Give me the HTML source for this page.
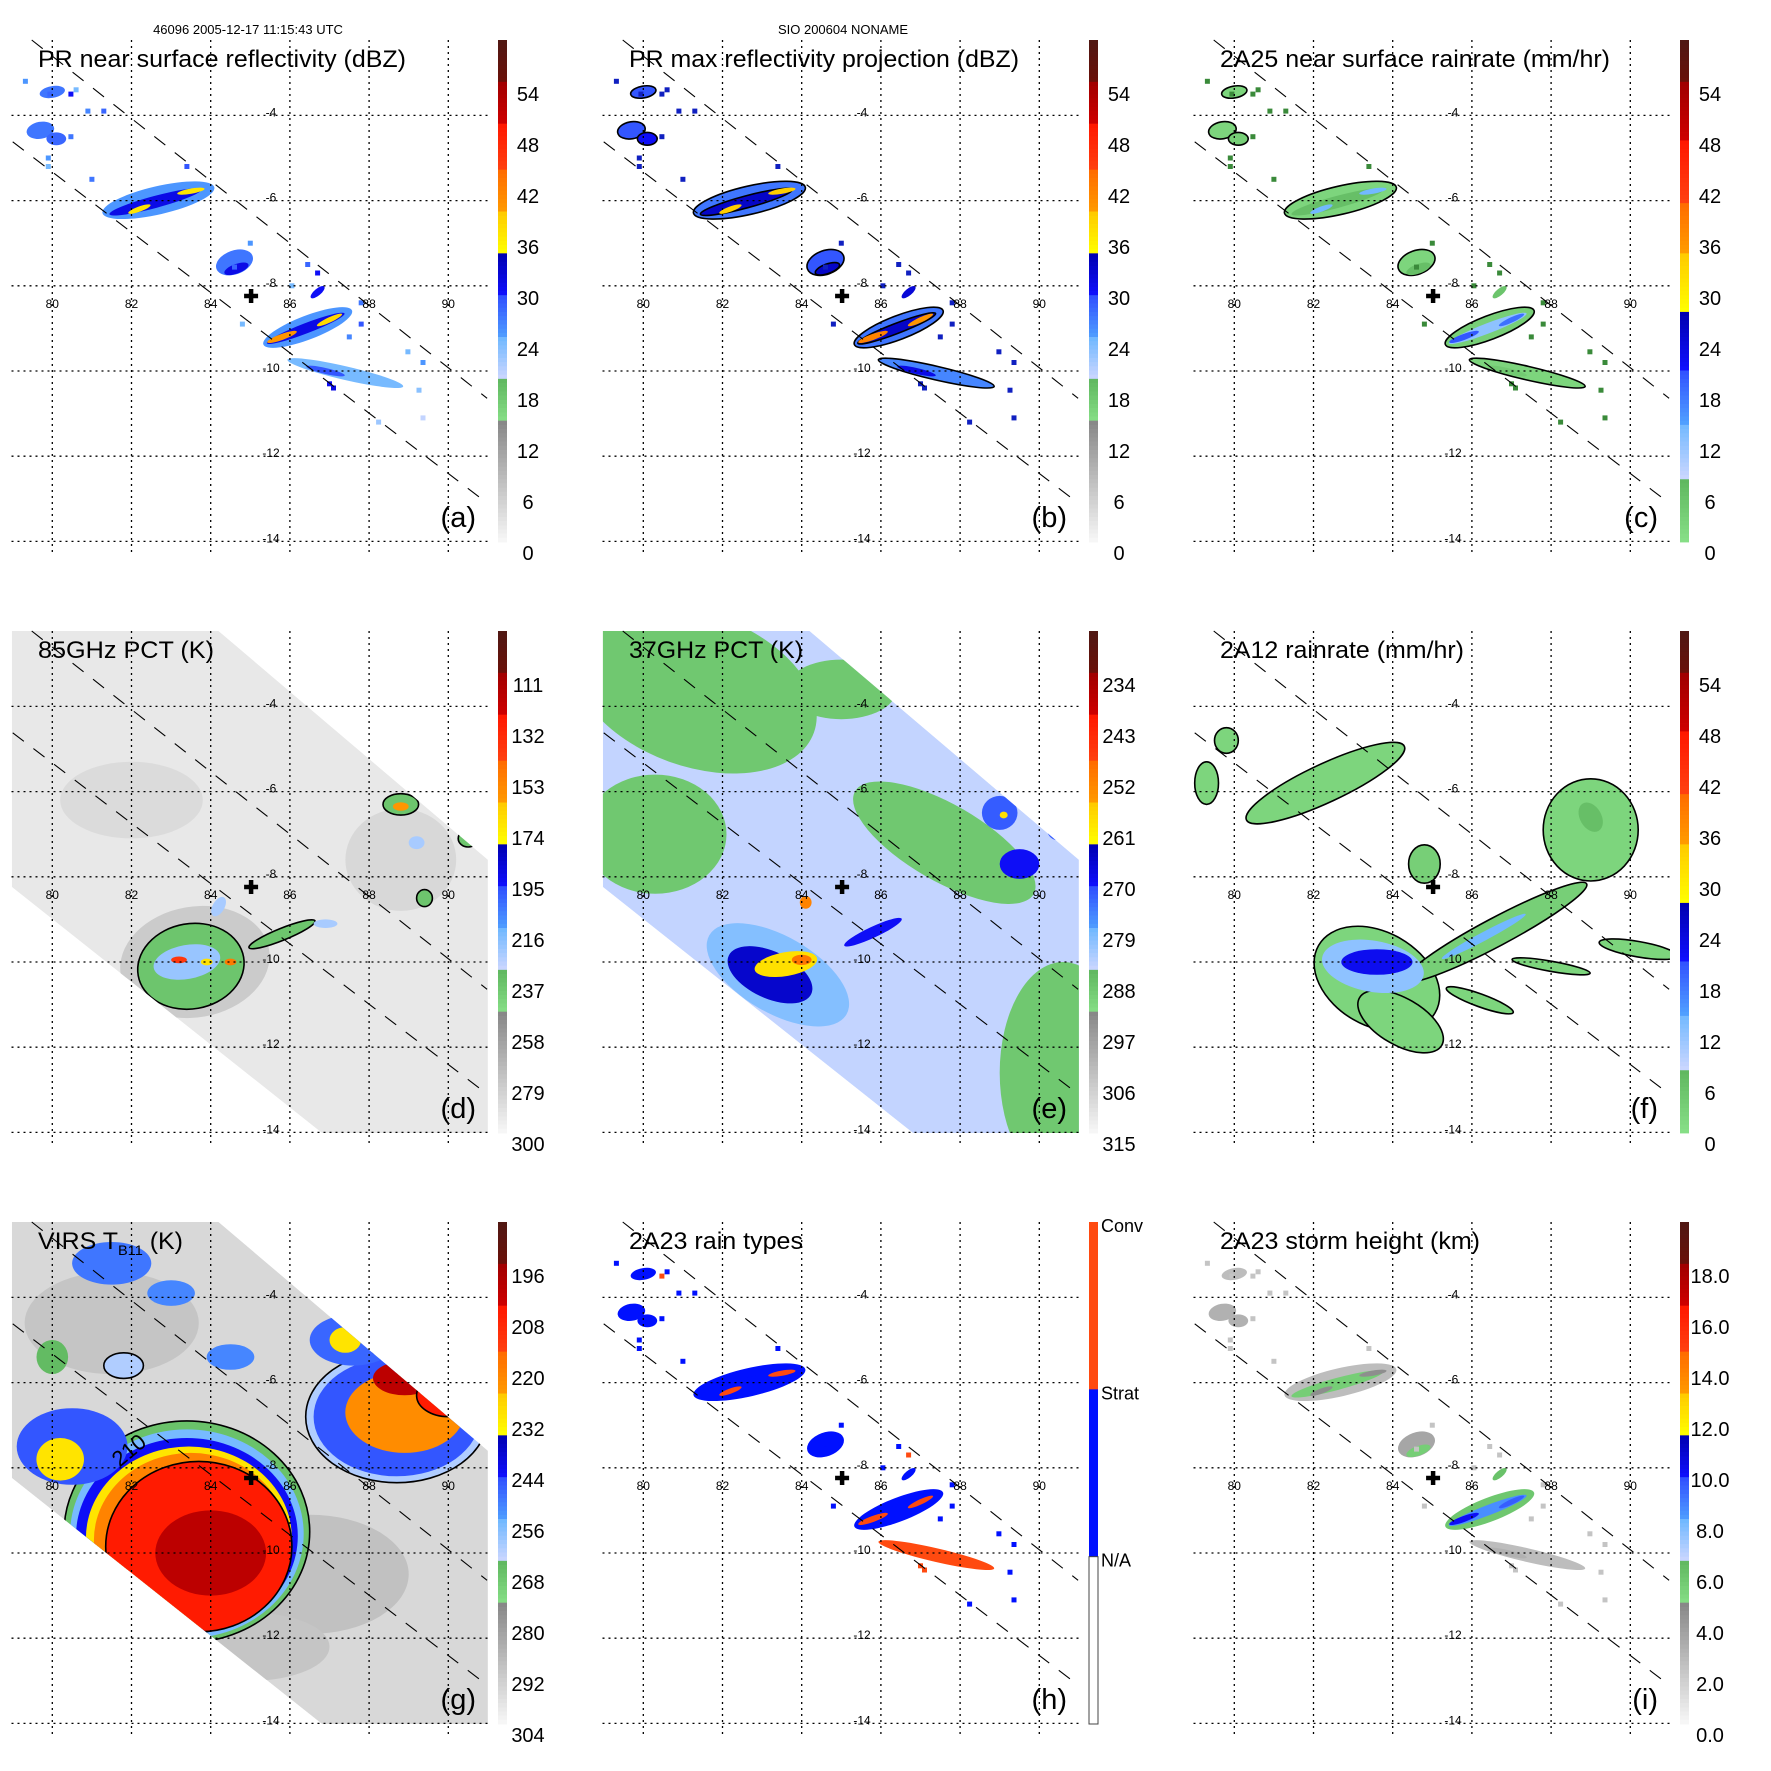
<!DOCTYPE html>
<html><head><meta charset="utf-8"><title>TRMM overpass panels</title>
<style>
html,body{margin:0;padding:0;background:#fff;}
svg{display:block;font-family:"Liberation Sans",Arial,sans-serif;}
</style></head>
<body>
<svg id="fig" xmlns="http://www.w3.org/2000/svg" width="1771" height="1771" viewBox="0 0 1771 1771">
<rect x="0" y="0" width="1771" height="1771" fill="#fff"/>
<text x="248" y="34" font-size="13" text-anchor="middle">46096 2005-12-17 11:15:43 UTC</text>
<text x="843" y="34" font-size="13" text-anchor="middle">SIO 200604 NONAME</text>
</svg>
<script>
// ---------- data: PR (precipitation radar) cells ----------
const prLon  = [82.68, 82.6, 82.2, 83.5, 86.45, 86.4, 85.8, 87.0, 84.6, 84.65, 87.4, 86.9, 79.7, 80.0, 86.7, 80.1];
const prLat  = [-5.99, -6.03, -6.2, -5.78, -8.98, -9.0, -9.2, -8.8, -7.45, -7.6, -10.05, -10.0, -4.35, -3.45, -8.15, -4.55];
const prLen  = [1.45, 1.2, 0.3, 0.35, 1.2, 1.05, 0.4, 0.35, 0.3, 0.12, 1.5, 0.5, 0.35, 0.15, 0.22, 0.25];
const prWid  = [0.33, 0.14, 0.06, 0.06, 0.28, 0.12, 0.07, 0.06, 0.45, 0.3, 0.16, 0.07, 0.2, 0.3, 0.08, 0.15];
const prAng  = [-13, -15, -20, -10, -21, -21, -20, -25, 70, 70, 13, 13, -10, 80, -40, 0];
const prDbz  = [25, 31, 37, 37, 25, 31, 40, 38, 27, 31, 24, 29, 27, 27, 30, 28];
const prRain = [2, 6, 14, 14, 3, 12, 20, 18, 2, 6, 2, 4, 2, 2, 5, 3];
const prHgt  = [2.5, 5.5, 4.5, 4.5, 5.8, 8.5, 10, 9.5, 3.5, 5.5, 2.5, 3, 3, 2.5, 6, 3];
const prType = [0, 0, 1, 1, 0, 0, 1, 1, 0, 0, 1, 1, 0, 0, 0, 0];
// scattered PR pixels
const spLon = [79.32,79.94,80.47,80.6,80.9,81.3,80.47,79.9,79.9,81.0,83.4,85.0,86.45,86.7,86.05,87.8,87.8,87.5,88.98,89.36,89.26,89.36,88.24,87.0,87.1,84.8,84.6];
const spLat = [-3.2,-3.5,-3.5,-3.4,-3.9,-3.9,-4.5,-5.0,-5.2,-5.5,-5.2,-7.0,-7.5,-7.7,-8.0,-8.4,-8.9,-9.2,-9.55,-9.8,-10.45,-11.1,-11.2,-10.3,-10.4,-8.9,-7.56];
const spDbz = [25,28,30,24,26,28,27,25,24,27,29,25,28,30,24,27,29,26,24,25,23,20,22,30,31,24,28];
// ---------- data: 85 GHz PCT (K) ----------
const d85Lon = [82.0, 88.8, 83.6, 83.5, 83.4, 85.8, 83.2, 83.9, 84.5, 88.8, 90.5, 89.4, 89.2, 84.2, 86.9, 88.8];
const d85Lat = [-6.2, -7.6, -10.0, -10.1, -10.0, -9.35, -9.95, -10.0, -10.0, -6.3, -7.1, -8.5, -7.2, -8.7, -9.1, -6.35];
const d85Rx  = [1.8, 1.4, 1.9, 1.35, 0.85, 0.9, 0.2, 0.15, 0.15, 0.45, 0.25, 0.2, 0.2, 0.15, 0.3, 0.2];
const d85Ry  = [0.9, 1.2, 1.3, 1.0, 0.4, 0.14, 0.08, 0.08, 0.08, 0.25, 0.2, 0.2, 0.15, 0.25, 0.1, 0.1];
const d85Ang = [0, 0, -10, -10, -10, -22, 0, 0, 0, 0, 0, 0, 0, 30, 0, 0];
const d85Val = [287, 286, 280, 238, 222, 238, 140, 170, 150, 238, 238, 238, 225, 225, 225, 160];
// ---------- data: 37 GHz PCT (K) ----------
const e37Lon = [81.3, 85.0, 80.3, 87.6, 90.6, 88.5, 83.4, 83.2, 83.6, 84.0, 85.8, 84.1, 89.0, 89.5, 90.5, 89.1];
const e37Lat = [-3.6, -3.6, -7.0, -7.2, -12.6, -4.6, -10.3, -10.3, -10.05, -9.95, -9.3, -8.6, -6.5, -7.7, -6.9, -6.55];
const e37Rx  = [3.2, 1.4, 1.8, 2.6, 1.6, 1.2, 2.0, 1.15, 0.8, 0.25, 0.8, 0.15, 0.45, 0.5, 0.3, 0.1];
const e37Ry  = [1.8, 0.7, 1.4, 0.9, 2.6, 0.6, 0.9, 0.55, 0.28, 0.12, 0.13, 0.15, 0.4, 0.35, 0.25, 0.08];
const e37Ang = [20, 0, 0, 30, 0, 30, 30, 25, -10, 0, -25, 0, 0, 0, 0, 0];
const e37Val = [289, 289, 289, 289, 289, 289, 280, 266, 259, 250, 270, 252, 272, 270, 272, 259];
// ---------- data: 2A12 rain rate (mm/hr) ----------
const f12Lon = [83.6, 86.6, 89.0, 82.3, 84.8, 88.0, 90.2, 86.2, 79.3, 79.8, 84.2, 83.5, 83.6, 86.3, 89.0];
const f12Lat = [-10.4, -9.3, -6.9, -5.8, -7.7, -10.1, -9.7, -10.9, -5.8, -4.8, -11.4, -10.1, -10.0, -9.4, -6.6];
const f12Rx  = [1.7, 2.6, 1.2, 2.2, 0.4, 1.0, 1.0, 0.9, 0.3, 0.3, 1.2, 1.3, 0.9, 1.2, 0.4];
const f12Ry  = [1.1, 0.33, 1.2, 0.45, 0.45, 0.12, 0.18, 0.15, 0.5, 0.3, 0.55, 0.6, 0.3, 0.1, 0.25];
const f12Ang = [30, -28, 0, -25, 0, 10, 10, 20, 0, 0, 30, 10, 0, -28, 60];
const f12Val = [2, 3, 2, 2, 3, 2, 2, 2, 2, 2, 2, 12, 22, 14, 6];
// ---------- data: VIRS TB11 (K) ----------
const gLon = [81.5, 86.5, 85.0, 83.4, 83.4, 83.4, 83.45, 83.5, 83.7, 83.9, 80.5, 80.2, 88.7, 88.7, 88.9, 88.9, 90.0, 87.6, 87.4, 81.5, 83.0, 84.5, 81.8, 80.0, 84.0];
const gLat = [-4.6, -10.5, -12.2, -9.5, -9.55, -9.6, -9.65, -9.7, -9.85, -10.4, -7.5, -7.8, -6.8, -6.8, -6.7, -5.9, -6.3, -5.0, -5.0, -3.2, -3.9, -5.4, -5.6, -5.4, -10.0];
const gRx  = [2.2, 2.5, 2.0, 3.1, 2.95, 2.8, 2.6, 2.45, 2.35, 0.8, 1.4, 0.6, 2.3, 2.1, 1.5, 0.8, 0.8, 1.1, 0.4, 1.0, 0.6, 0.6, 0.5, 0.4, 1.4];
const gRy  = [1.2, 1.4, 0.8, 2.6, 2.45, 2.3, 2.15, 2.05, 2.0, 0.4, 0.9, 0.5, 1.55, 1.4, 0.95, 0.4, 0.5, 0.6, 0.3, 0.5, 0.3, 0.3, 0.3, 0.4, 1.0];
const gVal = [291, 290, 291, 268, 256, 244, 230, 220, 205, 194, 246, 230, 262, 246, 222, 200, 205, 248, 230, 250, 252, 252, 262, 266, 200];
// ---------- colour bar tick labels ----------
const tickDbz = ['54','48','42','36','30','24','18','12','6','0'];
const tick85 = ['111','132','153','174','195','216','237','258','279','300'];
const tick37 = ['234','243','252','261','270','279','288','297','306','315'];
const tickVirs = ['196','208','220','232','244','256','268','280','292','304'];
const tickHgt = ['18.0','16.0','14.0','12.0','10.0','8.0','6.0','4.0','2.0','0.0'];
const lonTicks = [80, 82, 84, 86, 88, 90];
const latTicks = [-4, -6, -8, -10, -12, -14];

// ---------- geometry ----------
const NS = 'http://www.w3.org/2000/svg';
const svg = document.getElementById('fig');
function xs(lon){ return 52.3 + (lon - 80) * 39.6; }
function ys(lat){ return 115.4 + (-4 - lat) * 42.6; }
const PL = 11.5, PR = 488, PT = 40, PB = 542;
const OFF = 591;

const bandsA = [[0,.084,'#501814','#6a1008'],[.084,.169,'#a00000','#d00000'],[.169,.257,'#ff1800','#ff4010'],[.257,.341,'#ff6a00','#ff9a00'],[.341,.425,'#ffc800','#ffff00'],[.425,.51,'#0000b0','#1010ff'],[.51,.594,'#3050ff','#50a0ff'],[.594,.678,'#70b8ff','#d0d8ff'],[.678,.762,'#60b860','#88e088'],[.762,1.001,'#888888','#f8f8f8']];
const bandsF = [[0,.086,'#501814','#6a1008'],[.086,.204,'#a00000','#d00000'],[.204,.321,'#ff1800','#ff4010'],[.321,.421,'#ff6a00','#ff9a00'],[.421,.543,'#ffc800','#ffff00'],[.543,.657,'#0000b0','#1010ff'],[.657,.764,'#3050ff','#50a0ff'],[.764,.879,'#70b8ff','#d0d8ff'],[.879,1.001,'#60b860','#88e088']];
function hex(c){ return [parseInt(c.substr(1,2),16),parseInt(c.substr(3,2),16),parseInt(c.substr(5,2),16)]; }
function cmap(bands, f){
  f = Math.max(0, Math.min(1, f));
  for (const b of bands){
    if (f >= b[0] && f < b[1]){
      const t = (f - b[0]) / (b[1] - b[0]);
      const a = hex(b[2]), c = hex(b[3]);
      return 'rgb(' + a.map((v,i)=>Math.round(v + (c[i]-v)*t)).join(',') + ')';
    }
  }
  return bands[bands.length-1][3];
}
function mk(tag, parent){ const e = document.createElementNS(NS, tag); parent.appendChild(e); return e; }

const swLon = [78.98, 84.2, 91.0, 91.0, 87.2, 78.98];
const swLat = [-2.23, -2.23, -7.6, -14.3, -14.3, -8.24];
function swathPts(){ return swLon.map((l,i)=>xs(l).toFixed(1)+','+ys(swLat[i]).toFixed(1)).join(' '); }

const defs = mk('defs', svg);
const cpPlot = mk('clipPath', defs); cpPlot.setAttribute('id','plotclip');
const cpr = mk('rect', cpPlot);
cpr.setAttribute('x', PL); cpr.setAttribute('y', PT); cpr.setAttribute('width', PR-PL); cpr.setAttribute('height', PB-PT);
const cpSw = mk('clipPath', defs); cpSw.setAttribute('id','swathclip');
const cps = mk('polygon', cpSw); cps.setAttribute('points', swathPts());

function ellipse(parent, lon, lat, rx, ry, ang, fill, stroke, name){
  const e = mk('ellipse', parent);
  e.setAttribute('cx', xs(lon).toFixed(1));
  e.setAttribute('cy', ys(lat).toFixed(1));
  e.setAttribute('rx', (rx*39.6).toFixed(1));
  e.setAttribute('ry', (ry*42.6).toFixed(1));
  e.setAttribute('transform', 'rotate(' + ang + ' ' + xs(lon).toFixed(1) + ' ' + ys(lat).toFixed(1) + ')');
  e.setAttribute('fill', fill);
  if (stroke) { e.setAttribute('stroke', stroke); e.setAttribute('stroke-width', '1.6'); }
  
  
  return e;
}

function panel(col, row, letter){
  const g = mk('g', svg);
  g.setAttribute('transform', 'translate(' + (col*OFF) + ',' + (row*OFF) + ')');
  
  
  const content = mk('g', g);
  content.setAttribute('clip-path', 'url(#plotclip)');
  
  
  const inner = mk('g', content);
  
  
  return {g, inner, content};
}

function decorate(P, letter, title, titleW, ticks, bands, kind){
  const g = P.g;
  const grid = mk('g', g);
  
  
  for (const lon of lonTicks){
    const l = mk('line', grid);
    l.setAttribute('x1', xs(lon)); l.setAttribute('x2', xs(lon)); l.setAttribute('y1', PT); l.setAttribute('y2', 553);
    l.setAttribute('stroke', '#000'); l.setAttribute('stroke-width', '1.3'); l.setAttribute('stroke-dasharray', '2,4');
    
    
    const t = mk('text', grid);
    t.setAttribute('x', xs(lon)); t.setAttribute('y', 308); t.setAttribute('font-size', '12'); t.setAttribute('text-anchor', 'middle');
    t.textContent = lon;
    
    
  }
  for (const lat of latTicks){
    const l = mk('line', grid);
    l.setAttribute('x1', PL); l.setAttribute('x2', PR); l.setAttribute('y1', ys(lat)); l.setAttribute('y2', ys(lat));
    l.setAttribute('stroke', '#000'); l.setAttribute('stroke-width', '1.3'); l.setAttribute('stroke-dasharray', '2,4');
    
    
    const t = mk('text', grid);
    t.setAttribute('x', 271); t.setAttribute('y', ys(lat) + 1); t.setAttribute('font-size', '12'); t.setAttribute('text-anchor', 'middle');
    t.textContent = lat;
    
    
  }
  const sw = [[79.48,-2.23,90.98,-10.64],[79.0,-4.62,90.98,-13.1]];
  for (const s of sw){
    const l = mk('line', g);
    l.setAttribute('x1', xs(s[0])); l.setAttribute('y1', ys(s[1])); l.setAttribute('x2', xs(s[2])); l.setAttribute('y2', ys(s[3]));
    l.setAttribute('stroke', '#000'); l.setAttribute('stroke-width', '1.1'); l.setAttribute('stroke-dasharray', '14,12');
    
    
  }
  const cx = xs(85.02), cy = ys(-8.24);
  const cr = mk('path', g);
  cr.setAttribute('d', 'M' + (cx-7) + ' ' + cy + 'H' + (cx+7) + 'M' + cx + ' ' + (cy-7) + 'V' + (cy+7));
  cr.setAttribute('stroke', '#000'); cr.setAttribute('stroke-width', '4.5');
  
  
  const tt = mk('text', g);
  tt.setAttribute('x', 38); tt.setAttribute('y', 67); tt.setAttribute('font-size', '24');
  tt.setAttribute('textLength', titleW); tt.setAttribute('lengthAdjust', 'spacingAndGlyphs');
  if (kind === 'virs'){
    const a = mk('tspan', tt); a.textContent = 'VIRS T';
    const b = mk('tspan', tt); b.setAttribute('font-size', '14'); b.setAttribute('dy', '6'); b.textContent = 'B11';
    const c = mk('tspan', tt); c.setAttribute('dy', '-6'); c.textContent = ' (K)';
  } else tt.textContent = title;
  
  
  const pl = mk('text', g);
  pl.setAttribute('x', 476); pl.setAttribute('y', 527); pl.setAttribute('font-size', '29'); pl.setAttribute('text-anchor', 'end');
  pl.textContent = '(' + letter + ')';
  
  
  const cb = mk('g', g);
  
  
  if (kind === 'types'){
    const cols = ['#ff4a10', '#0010ff', '#ffffff'];
    const labs = ['Conv', 'Strat', 'N/A'];
    for (let i = 0; i < 3; i++){
      const r = mk('rect', cb);
      r.setAttribute('x', 498); r.setAttribute('y', PT + i*(PB-PT)/3); r.setAttribute('width', 9); r.setAttribute('height', (PB-PT)/3 + 0.5);
      r.setAttribute('fill', cols[i]);
      
      
      const t = mk('text', cb);
      t.setAttribute('x', 510); t.setAttribute('y', PT + i*(PB-PT)/3 + 10); t.setAttribute('font-size', '18');
      t.textContent = labs[i];
      
      
    }
    const bd = mk('rect', cb);
    bd.setAttribute('x', 498); bd.setAttribute('y', PT + 2*(PB-PT)/3); bd.setAttribute('width', 9); bd.setAttribute('height', (PB-PT)/3);
    bd.setAttribute('fill', 'none'); bd.setAttribute('stroke', '#444'); bd.setAttribute('stroke-width', '1');
  } else {
    const N = 120;
    for (let i = 0; i < N; i++){
      const r = mk('rect', cb);
      r.setAttribute('x', 498); r.setAttribute('y', (PT + i*(PB-PT)/N).toFixed(2)); r.setAttribute('width', 9); r.setAttribute('height', ((PB-PT)/N + 0.4).toFixed(2));
      r.setAttribute('fill', cmap(bands, (i + 0.5)/N));
      
      
    }
    ticks.forEach((lab, i) => {
      const t = mk('text', cb);
      t.setAttribute('x', 528); t.setAttribute('y', 94 + i*51.0 + 7); t.setAttribute('font-size', '20'); t.setAttribute('text-anchor', 'middle');
      t.textContent = lab;
      
      
    });
  }
}

function prPanel(col, row, letter, title, titleW, ticks, bands, mode){
  const P = panel(col, row, letter);
  prLon.forEach((lon, i) => {
    let fill, stroke = null;
    if (mode === 'a'){ fill = cmap(bands, 1 - prDbz[i]/60); }
    else if (mode === 'b'){ fill = cmap(bands, 1 - (prDbz[i]+2)/60); stroke = (prWid[i] > 0.1) ? '#000' : null; }
    else if (mode === 'c'){ fill = cmap(bands, 1 - prRain[i]/60); stroke = (prWid[i] > 0.1 && prRain[i] < 5) ? '#000' : null; }
    else if (mode === 'h'){ fill = prType[i] ? '#ff4a10' : '#0010ff'; }
    else { fill = cmap(bands, 1 - prHgt[i]/20); }
    ellipse(P.inner, lon, prLat[i], prLen[i], prWid[i], prAng[i], fill, stroke, 'rain-cell');
  });
  spLon.forEach((lon, i) => {
    const r = mk('rect', P.inner);
    r.setAttribute('x', (xs(lon) - 2.5).toFixed(1)); r.setAttribute('y', (ys(spLat[i]) - 2.5).toFixed(1));
    r.setAttribute('width', 5); r.setAttribute('height', 5);
    let fill;
    if (mode === 'a') fill = cmap(bands, 1 - spDbz[i]/60);
    else if (mode === 'b') fill = '#1020c0';
    else if (mode === 'c') fill = '#3a8a3a';
    else if (mode === 'h') fill = spDbz[i] > 29 ? '#ff4a10' : '#0010ff';
    else fill = '#c4c4c4';
    r.setAttribute('fill', fill);
    
    
  });
  decorate(P, letter, title, titleW, ticks, bands, mode === 'h' ? 'types' : 'cb');
}

function swathPanel(col, row, letter, title, titleW, ticks, bands, lons, lats, rxs, rys, angs, vals, frac, base, kind, strokeFn){
  const P = panel(col, row, letter);
  const sg = mk('g', P.inner);
  if (base !== null){ sg.setAttribute('clip-path', 'url(#swathclip)'); }
  
  
  if (base !== null){
    const poly = mk('polygon', sg);
    poly.setAttribute('points', swathPts());
    poly.setAttribute('fill', cmap(bands, frac(base)));
    
    
  }
  lons.forEach((lon, i) => {
    const s = strokeFn ? strokeFn(vals[i]) : null;
    ellipse(sg, lon, lats[i], rxs[i], rys[i], angs ? angs[i] : 0, cmap(bands, frac(vals[i])), s, 'field-feature');
  });
  if (kind === 'virs'){
    const t = mk('text', sg);
    t.setAttribute('x', xs(81.7)); t.setAttribute('y', ys(-8.0)); t.setAttribute('font-size', '22');
    t.setAttribute('transform', 'rotate(-40 ' + xs(81.7) + ' ' + ys(-8.0) + ')');
    t.textContent = '210';
    
    
  }
  decorate(P, letter, title, titleW, ticks, bands, kind);
}

prPanel(0, 0, 'a', 'PR near surface reflectivity (dBZ)', 368, tickDbz, bandsA, 'a');
prPanel(1, 0, 'b', 'PR max reflectivity projection (dBZ)', 390, tickDbz, bandsA, 'b');
prPanel(2, 0, 'c', '2A25 near surface rainrate (mm/hr)', 390, tickDbz, bandsF, 'c');
swathPanel(0, 1, 'd', '85GHz PCT (K)', 176, tick85, bandsA, d85Lon, d85Lat, d85Rx, d85Ry, d85Ang, d85Val, v => (v - 90)/210, 293, 'cb', v => (v < 245 && v > 230) ? '#000' : null);
swathPanel(1, 1, 'e', '37GHz PCT (K)', 174, tick37, bandsA, e37Lon, e37Lat, e37Rx, e37Ry, e37Ang, e37Val, v => (v - 225)/90, 285, 'cb', null);
swathPanel(2, 1, 'f', '2A12 rainrate (mm/hr)', 244, tickDbz, bandsF, f12Lon, f12Lat, f12Rx, f12Ry, f12Ang, f12Val, v => 1 - v/60, null, 'cb', v => v < 4 ? '#000' : null);
swathPanel(0, 2, 'g', 'VIRS TB11 (K)', 145, tickVirs, bandsA, gLon, gLat, gRx, gRy, null, gVal, v => (v - 184)/120, 296, 'virs', v => (v === 268 || v === 205 || v === 262) ? '#000' : null);
prPanel(1, 2, 'h', '2A23 rain types', 174, [], bandsA, 'h');
prPanel(2, 2, 'i', '2A23 storm height (km)', 260, tickHgt, bandsA, 'i');
</script>
</body></html>
